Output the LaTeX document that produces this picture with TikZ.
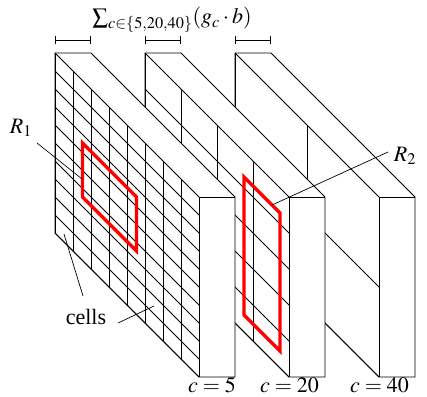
\documentclass[tikz,border=0pt]{standalone}
\usepackage{mathptmx}
\usepackage{fontspec}
\setmainfont{Liberation Serif}
\usetikzlibrary{arrows.meta}
\tikzset{
  slabline/.style={line width=0.8pt, black},
  gridline/.style={line width=0.8pt, black},
  redbox/.style={draw=red, line width=3.2pt, line join=miter},
  leader/.style={line width=0.7pt, black},
  dimbar/.style={line width=0.8pt, {Bar[width=8pt,line width=0.8pt]}-{Bar[width=8pt,line width=0.8pt]}},
  lbl/.style={font=\fontsize{22}{26}\selectfont, inner sep=0pt}
}
\newcommand\drawslab[3]{%
  \pgfmathsetmacro\cw{144/#2}%
  \pgfmathsetmacro\rh{180/#3}%
  \filldraw[slabline, fill=white] (#1,53) -- (#1+36,53) -- (#1+180,197) -- (#1+180,377) -- (#1+144,377) -- (#1,233) -- cycle;
  \draw[slabline] (#1+144,197) -- (#1+180,197) (#1+144,197) -- (#1+144,377);
  \foreach \i in {0,...,#2} {\draw[gridline] (#1+\i*\cw, 53+\i*\cw) -- ++(0,180);}
  \foreach \j in {0,...,#3} {\draw[gridline] (#1, 53+\j*\rh) -- ++(144,144);}
}
\begin{document}
\begin{tikzpicture}[x=1pt,y=-1pt]
\useasboundingbox (0,0) rectangle (427,396);
% slabs, back to front
\drawslab{235}{2}{2}
\drawslab{145}{4}{5}
\drawslab{55}{8}{10}
% red regions
\draw[redbox] (82.5,143) -- (82.5,197) -- (136.5,251) -- (136.5,197) -- cycle;
\draw[redbox] (244,177) -- (280,213) -- (280,351) -- (244,315) -- cycle;
% dimension bars
\coordinate (d1a) at (55,40); \coordinate (d1b) at (91,40);
\coordinate (d2a) at (145,40); \coordinate (d2b) at (181,40);
\coordinate (d3a) at (235,40); \coordinate (d3b) at (271,40);
\draw[dimbar] (d1a) -- (d1b);
\draw[dimbar] (d2a) -- (d2b);
\draw[dimbar] (d3a) -- (d3b);
% labels
\node[lbl] (sum) at (172,20) {$\sum_{c\in\{5,20,40\}}(g_c\cdot b)$};
\node[lbl] (r1) at (21,128) {$R_1$};
\node[lbl] (r2) at (405,156) {$R_2$};
\node[lbl, anchor=base] (cells) at (86,324) {cells};
\node[lbl, anchor=base] (c5) at (212,392) {$c=5$};
\node[lbl, anchor=base] (c20) at (289.5,392) {$c=20$};
\node[lbl, anchor=base] (c40) at (379.5,392) {$c=40$};
% leader lines
\coordinate (r1s) at (37,143); \coordinate (r1e) at (82,179);
\coordinate (r2s) at (388,152); \coordinate (r2e) at (272,205);
\coordinate (ca) at (83,296); \coordinate (cae) at (64,234);
\coordinate (cb) at (118,323); \coordinate (cbe) at (154,306);
\draw[leader] (r1s) -- (r1e);
\draw[leader] (r2s) -- (r2e);
\draw[leader] (ca) -- (cae);
\draw[leader] (cb) -- (cbe);
\end{tikzpicture}
\end{document}
